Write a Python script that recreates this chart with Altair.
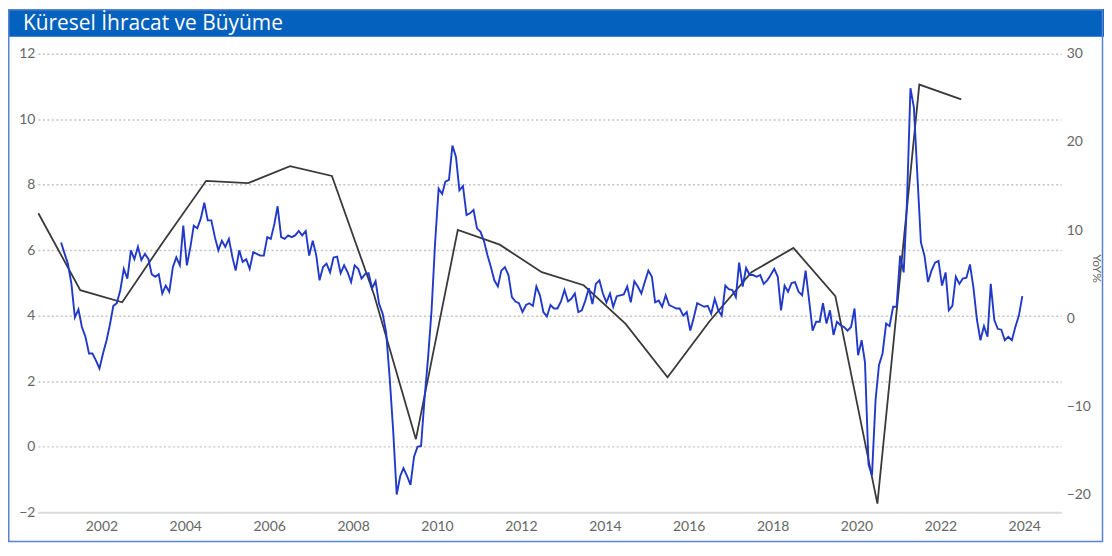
import altair as alt
import pandas as pd

title_text = ["Küresel İhracat ve Büyüme"]

# Annual series (left axis), plotted at mid-year
black_years = list(range(2000, 2023))
black_vals = [7.13, 4.78, 4.41, 6.3, 8.12, 8.05, 8.57, 8.27, 4.65, 0.23, 6.62, 6.17,
              5.33, 4.93, 3.75, 2.12, 3.83, 5.33, 6.07, 4.6, -1.74, 11.06, 10.61]

# Monthly YoY % series (right axis), Jan 2001 - Dec 2023
blue_vals = [
    8.6, 7.3, 6.2, 3.9, 0.1, 1.0, -1.0, -2.1, -4.0, -4.0, -4.8, -5.7,      # 2001
    -4.0, -2.5, -0.8, 1.4, 1.7, 3.2, 5.6, 4.5, 7.7, 6.7, 8.1, 6.6,         # 2002
    7.3, 6.7, 5.0, 4.7, 5.0, 2.8, 3.7, 3.0, 5.8, 6.9, 6.0, 10.5,           # 2003
    6.0, 8.1, 10.5, 10.2, 11.3, 13.1, 11.1, 11.1, 9.2, 7.7, 8.8, 8.1,      # 2004
    9.0, 6.9, 5.4, 7.7, 6.4, 6.7, 5.6, 7.5, 7.3, 7.1, 7.1, 9.2,            # 2005
    9.0, 10.7, 12.7, 9.2, 9.0, 9.4, 9.2, 9.4, 9.9, 9.4, 9.9, 7.1,          # 2006
    8.8, 7.1, 4.3, 5.8, 6.2, 5.2, 6.9, 7.0, 5.1, 6.0, 5.2, 4.1,            # 2007
    6.0, 5.6, 4.5, 5.0, 5.1, 3.4, 4.2, 1.6, 0.5, -1.6, -6.8, -12.7,        # 2008
    -20.0, -17.9, -17.0, -17.9, -18.9, -15.7, -14.6, -14.5, -9.0, -4.5, 1.0, 8.5,  # 2009
    14.7, 14.1, 15.5, 15.7, 19.6, 18.3, 14.5, 15.0, 11.7, 11.9, 12.3, 10.2,  # 2010
    9.8, 8.7, 7.2, 5.8, 4.3, 3.6, 5.4, 5.8, 4.9, 2.4, 1.9, 1.7,            # 2011
    0.7, 1.5, 1.7, 1.4, 3.6, 2.6, 0.7, 0.2, 1.5, 1.1, 1.1, 1.9,            # 2012
    3.2, 1.9, 2.2, 2.8, 0.7, 0.9, 2.0, 3.4, 1.6, 3.9, 4.3, 2.8,            # 2013
    1.8, 2.8, 1.3, 2.5, 2.6, 2.7, 3.6, 1.8, 4.2, 3.6, 2.8, 4.1,            # 2014
    5.4, 4.7, 1.8, 2.0, 1.3, 2.6, 1.5, 1.3, 1.1, 1.1, 0.3, 0.7,            # 2015
    -1.4, 0.1, 1.7, 1.5, 1.3, 1.4, 0.5, 2.2, 0.9, 0.3, 3.7, 3.3,           # 2016
    3.2, 2.4, 6.3, 3.6, 5.7, 4.9, 4.9, 4.7, 4.9, 3.9, 4.3, 4.9,            # 2017
    5.6, 4.7, 0.9, 3.7, 3.0, 4.0, 4.1, 3.0, 2.6, 5.4, 2.0, -1.4,           # 2018
    -0.4, -0.4, 1.7, -0.6, 0.9, -1.9, -0.4, -0.8, -1.0, -1.4, -1.0, 1.1,   # 2019
    -4.2, -2.5, -5.0, -16.6, -17.8, -9.3, -5.3, -4.0, -0.6, -0.9, 1.3, 1.3,  # 2020
    7.1, 5.2, 13.0, 26.1, 23.9, 16.0, 8.6, 7.1, 4.1, 5.4, 6.3, 6.5,        # 2021
    3.7, 5.2, 0.9, 1.4, 4.7, 3.9, 4.5, 4.6, 6.1, 3.5, -0.2, -2.5,          # 2022
    -0.9, -2.1, 3.9, -0.2, -1.2, -1.3, -2.5, -2.1, -2.5, -1.0, 0.3, 2.5,   # 2023
]

left_ticks = [-2, 0, 2, 4, 6, 8, 10, 12]
right_ticks = [-20, -10, 0, 10, 20, 30]
x_tick_years = list(range(2002, 2025, 2))

blue_dates = (pd.date_range("2001-01-01", periods=len(blue_vals), freq="MS")
              + pd.Timedelta(days=14)).strftime("%Y-%m-%d").tolist()
black_dates = [f"{y}-07-01" for y in black_years]

df_blue = pd.DataFrame({"date": blue_dates, "yoy": blue_vals})
df_black = pd.DataFrame({"date": black_dates, "val": black_vals})
df_title = pd.DataFrame({"t": title_text})
df_one = pd.DataFrame({"k": [0]})

FONT = "Lato"
LABEL_COLOR = "#666666"

x_scale = alt.Scale(
    type="utc",
    domain=[alt.DateTime(year=2000, month=6, date=27, utc=True),
            alt.DateTime(year=2024, month=11, date=17, utc=True)],
)
x_axis = alt.Axis(
    values=[alt.DateTime(year=y, month=1, date=1, utc=True) for y in x_tick_years],
    format="%Y", title=None, ticks=False, grid=False,
    domainColor="#dcdcdc", domainWidth=2,
    labelFont=FONT, labelFontSize=14, labelColor=LABEL_COLOR, labelPadding=7,
)

black = alt.Chart(df_black).mark_line(color="#3a3a3a", strokeWidth=1.8).encode(
    x=alt.X("date:T", scale=x_scale, axis=x_axis),
    y=alt.Y("val:Q", scale=alt.Scale(domain=[-2, 12], nice=False, zero=False),
            axis=alt.Axis(orient="left", values=left_ticks, title=None, grid=True,
                          gridDash=[2, 2.5], gridColor="#c4c4c4", gridWidth=1.5,
                          ticks=False, domain=False, labelPadding=3,
                          labelFont=FONT, labelFontSize=14, labelColor=LABEL_COLOR)),
)

blue = alt.Chart(df_blue).mark_line(color="#2139c9", strokeWidth=1.9).encode(
    x=alt.X("date:T", scale=x_scale, axis=x_axis),
    y=alt.Y("yoy:Q", scale=alt.Scale(domain=[-22, 30], nice=False, zero=False),
            axis=alt.Axis(orient="right", values=right_ticks, title="YoY%", grid=False,
                          ticks=False, domain=False, labelPadding=5,
                          labelFont=FONT, labelFontSize=14, labelColor=LABEL_COLOR,
                          titleFont=FONT, titleFontSize=12, titleFontWeight="normal",
                          titleColor=LABEL_COLOR, titleAngle=90, titleAlign="center",
                          titleBaseline="middle", titleX=35, titleY=215)),
)

title_bar = alt.Chart(df_one).mark_rect(color="#0461bd").encode(
    x=alt.value(-30), x2=alt.value(1070), y=alt.value(-45), y2=alt.value(-17),
)
title_label = alt.Chart(df_title).mark_text(
    align="left", baseline="alphabetic", color="white", font="Open Sans", fontSize=21,
).encode(
    x=alt.value(-15), y=alt.value(-24), text="t:N",
)
frame = alt.Chart(df_one).mark_rect(fillOpacity=0, stroke="#5a82d2", strokeWidth=1.5).encode(
    x=alt.value(-29.25), x2=alt.value(1068.5), y=alt.value(-44.25), y2=alt.value(489.5),
)

chart = alt.layer(title_bar, frame, title_label, black, blue).resolve_scale(
    y="independent"
).properties(
    width=1027, height=460,
    autosize=alt.AutoSizeParams(type="none"),
    padding={"left": 30, "top": 45, "right": 43, "bottom": 31},
    background="white",
).configure_view(strokeWidth=0)

chart.save("out.html", embed_options={"renderer": "svg", "actions": False})
